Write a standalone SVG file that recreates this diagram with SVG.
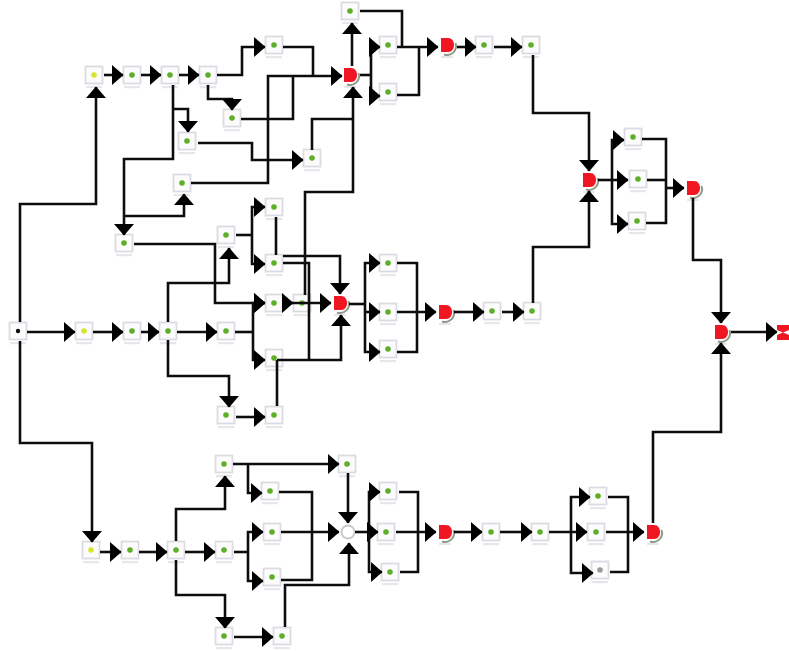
<svg xmlns="http://www.w3.org/2000/svg" xmlns:xlink="http://www.w3.org/1999/xlink" width="789" height="651" viewBox="0 0 789 651">
<style>
.w{fill:none;stroke:#111;stroke-width:2.6;stroke-linejoin:miter}
.a{fill:none;stroke:#111;stroke-width:2.6;marker-end:url(#ah)}
.box{fill:#fcfcfc;stroke:#dcdae2;stroke-width:1.800}
.g{fill:#5fae2a}.y{fill:#d6e62a}.k{fill:#111}.s{fill:#999}
.lab{fill:#e6e6ec}
.red{fill:#f01420}.sh{fill:none;stroke:#8f9a88;stroke-width:2}
</style>
<defs>
<filter id="soft" x="-2%" y="-2%" width="104%" height="104%"><feGaussianBlur stdDeviation="0.6"/></filter>
<marker id="ah" markerUnits="userSpaceOnUse" markerWidth="12" markerHeight="21" viewBox="0 0 12 21" refX="11" refY="10.5" orient="auto"><path d="M0 0.5L11.5 10.5L0 20.5z" fill="#000"/></marker>
<g id="box"><rect class="box" x="-8.5" y="-8.5" width="17" height="17"/><rect class="lab" x="-8" y="11" width="16" height="2.2"/></g>
<g id="rd"><path class="sh" d="M-3 9.5A9 9 0 0 0 8.5 -2"/><path class="red" d="M-6 -7H1C5 -7 7 -3.500 7 0C7 3.500 5 7 1 7H-6z"/><rect class="lab" x="-6" y="11" width="12" height="2"/></g>
</defs>
<g filter="url(#soft)">
<rect width="789" height="651" fill="#fff"/>
<g id="nodes">
<g id="start" transform="translate(18,331)"><use href="#box"/><circle class="k" r="2.200"/></g>
<g id="t1" transform="translate(94,75)"><use href="#box"/><circle class="y" r="2.800"/></g>
<g id="t2" transform="translate(132,75)"><use href="#box"/><circle class="g" r="2.800"/></g>
<g id="t3" transform="translate(170,75)"><use href="#box"/><circle class="g" r="2.800"/></g>
<g id="t4" transform="translate(208,75)"><use href="#box"/><circle class="g" r="2.800"/></g>
<g id="t5" transform="translate(274,45)"><use href="#box"/><circle class="g" r="2.800"/></g>
<g id="t6" transform="translate(232,118)"><use href="#box"/><circle class="g" r="2.800"/></g>
<g id="t7" transform="translate(187,141)"><use href="#box"/><circle class="g" r="2.800"/></g>
<g id="t8" transform="translate(312,158)"><use href="#box"/><circle class="g" r="2.800"/></g>
<g id="t9" transform="translate(182,183)"><use href="#box"/><circle class="g" r="2.800"/></g>
<g id="t10" transform="translate(124,243)"><use href="#box"/><circle class="g" r="2.800"/></g>
<g id="t11" transform="translate(350,11)"><use href="#box"/><circle class="g" r="2.800"/></g>
<g id="t12" transform="translate(388,45)"><use href="#box"/><circle class="g" r="2.800"/></g>
<g id="t13" transform="translate(388,92)"><use href="#box"/><circle class="g" r="2.800"/></g>
<g id="tr1" transform="translate(350,75)"><use href="#rd"/></g>
<g id="tr2" transform="translate(447,45)"><use href="#rd"/></g>
<g id="t14" transform="translate(484,45)"><use href="#box"/><circle class="g" r="2.800"/></g>
<g id="t15" transform="translate(531,45)"><use href="#box"/><circle class="g" r="2.800"/></g>
<g id="m1" transform="translate(84,331)"><use href="#box"/><circle class="y" r="2.800"/></g>
<g id="m2" transform="translate(132,331)"><use href="#box"/><circle class="g" r="2.800"/></g>
<g id="m3" transform="translate(168,331)"><use href="#box"/><circle class="g" r="2.800"/></g>
<g id="m4" transform="translate(226,331)"><use href="#box"/><circle class="g" r="2.800"/></g>
<g id="m5" transform="translate(226,235)"><use href="#box"/><circle class="g" r="2.800"/></g>
<g id="m6" transform="translate(274,207)"><use href="#box"/><circle class="g" r="2.800"/></g>
<g id="m7" transform="translate(274,263)"><use href="#box"/><circle class="g" r="2.800"/></g>
<g id="m8" transform="translate(274,303)"><use href="#box"/><circle class="g" r="2.800"/></g>
<g id="m9" transform="translate(302,303)"><use href="#box"/><circle class="g" r="2.800"/></g>
<g id="m10" transform="translate(274,358)"><use href="#box"/><circle class="g" r="2.800"/></g>
<g id="m11" transform="translate(226,415)"><use href="#box"/><circle class="g" r="2.800"/></g>
<g id="m12" transform="translate(274,415)"><use href="#box"/><circle class="g" r="2.800"/></g>
<g id="mr1" transform="translate(340,303)"><use href="#rd"/></g>
<g id="m13" transform="translate(388,263)"><use href="#box"/><circle class="g" r="2.800"/></g>
<g id="m14" transform="translate(388,312)"><use href="#box"/><circle class="g" r="2.800"/></g>
<g id="m15" transform="translate(388,349)"><use href="#box"/><circle class="g" r="2.800"/></g>
<g id="mr2" transform="translate(445,312)"><use href="#rd"/></g>
<g id="m16" transform="translate(492,311)"><use href="#box"/><circle class="g" r="2.800"/></g>
<g id="m17" transform="translate(532,311)"><use href="#box"/><circle class="g" r="2.800"/></g>
<g id="r1" transform="translate(589,180)"><use href="#rd"/></g>
<g id="r2" transform="translate(633,137)"><use href="#box"/><circle class="g" r="2.800"/></g>
<g id="r3" transform="translate(638,179)"><use href="#box"/><circle class="g" r="2.800"/></g>
<g id="r4" transform="translate(637,221)"><use href="#box"/><circle class="g" r="2.800"/></g>
<g id="r5" transform="translate(693,188)"><use href="#rd"/></g>
<g id="r6" transform="translate(721,332)"><use href="#rd"/></g>
<g id="end"><path class="red" d="M777 325H789V330L783 332.500L789 335V340H777V335L783 332.500L777 330z"/></g>
<g id="b1" transform="translate(91,550)"><use href="#box"/><circle class="y" r="2.800"/></g>
<g id="b2" transform="translate(130,550)"><use href="#box"/><circle class="g" r="2.800"/></g>
<g id="b3" transform="translate(176,550)"><use href="#box"/><circle class="g" r="2.800"/></g>
<g id="b4" transform="translate(224,550)"><use href="#box"/><circle class="g" r="2.800"/></g>
<g id="b5" transform="translate(224,464)"><use href="#box"/><circle class="g" r="2.800"/></g>
<g id="b6" transform="translate(347,464)"><use href="#box"/><circle class="g" r="2.800"/></g>
<g id="b7" transform="translate(270,491)"><use href="#box"/><circle class="g" r="2.800"/></g>
<g id="b8" transform="translate(272,532)"><use href="#box"/><circle class="g" r="2.800"/></g>
<g id="b9" transform="translate(272,577)"><use href="#box"/><circle class="g" r="2.800"/></g>
<g id="b10" transform="translate(224,636)"><use href="#box"/><circle class="g" r="2.800"/></g>
<g id="b11" transform="translate(282,636)"><use href="#box"/><circle class="g" r="2.800"/></g>
<g id="bc" transform="translate(348,532)"><circle r="6.500" fill="#fff" stroke="#c8c8c8" stroke-width="1.800"/></g>
<g id="b12" transform="translate(388,491)"><use href="#box"/><circle class="g" r="2.800"/></g>
<g id="b13" transform="translate(386,532)"><use href="#box"/><circle class="g" r="2.800"/></g>
<g id="b14" transform="translate(390,572)"><use href="#box"/><circle class="g" r="2.800"/></g>
<g id="br1" transform="translate(445,532)"><use href="#rd"/></g>
<g id="b15" transform="translate(491,532)"><use href="#box"/><circle class="g" r="2.800"/></g>
<g id="b16" transform="translate(540,532)"><use href="#box"/><circle class="g" r="2.800"/></g>
<g id="b17" transform="translate(598,496)"><use href="#box"/><circle class="g" r="2.800"/></g>
<g id="b18" transform="translate(596,532)"><use href="#box"/><circle class="g" r="2.800"/></g>
<g id="b19" transform="translate(600,570)"><use href="#box"/><circle class="s" r="2.800"/></g>
<g id="br2" transform="translate(653,532)"><use href="#rd"/></g>
</g>
<g id="connectors">
<path class="a" d="M104 75H123"/>
<path class="a" d="M141 75H161"/>
<path class="a" d="M179 75H199"/>
<path class="a" d="M217 75H242V47H265"/>
<path class="a" d="M208 85V99H232V110"/>
<path class="a" d="M173 85V159H124V235"/>
<path class="a" d="M173 109H188V132"/>
<path class="a" d="M198 143H252V160H303"/>
<path class="a" d="M124 216H184V194"/>
<path class="a" d="M191 183H268V76H342"/>
<path class="w" d="M241 119H293V76"/>
<path class="w" d="M283 47H313V76"/>
<path class="w" d="M312 150V119H353"/>
<path class="a" d="M305 295V192H353V87"/>
<path class="a" d="M352 66V23"/>
<path class="w" d="M360 75H371"/>
<path class="a" d="M371 75V47H380"/>
<path class="a" d="M371 75V96H380"/>
<path class="w" d="M360 11H402V47"/>
<path class="a" d="M397 47H438"/>
<path class="w" d="M397 95H419V47"/>
<path class="a" d="M457 47H476"/>
<path class="a" d="M494 47H522"/>
<path class="a" d="M533 55V113H589V171"/>
<path class="a" d="M533 303V247H589V191"/>
<path class="a" d="M598 180H628"/>
<path class="a" d="M612 180V140H624"/>
<path class="a" d="M612 180V224H628"/>
<path class="w" d="M642 139H666V223H646"/>
<path class="w" d="M647 180H666"/>
<path class="a" d="M666 188H684"/>
<path class="a" d="M693 198V260H721V323"/>
<path class="a" d="M653 523V432H721V343"/>
<path class="a" d="M731 332H777"/>
<path class="w" d="M276 217V255"/>
<path class="w" d="M236 235H252"/>
<path class="a" d="M252 235V207H265"/>
<path class="a" d="M252 235V264H265"/>
<path class="a" d="M283 256H340V294"/>
<path class="w" d="M283 263H309V360"/>
<path class="a" d="M277 360H341V315"/>
<path class="w" d="M277 360V406"/>
<path class="a" d="M134 244H215V303H265"/>
<path class="a" d="M283 303H293"/>
<path class="a" d="M293 303H331"/>
<path class="w" d="M235 332H253"/>
<path class="a" d="M253 332V303H265"/>
<path class="a" d="M253 332V360H265"/>
<path class="a" d="M168 322V283H229V248"/>
<path class="a" d="M168 340V376H229V407"/>
<path class="a" d="M236 417H265"/>
<path class="a" d="M27 332H75"/>
<path class="a" d="M93 332H123"/>
<path class="a" d="M141 332H159"/>
<path class="a" d="M177 332H217"/>
<path class="a" d="M20 322V204H96V87"/>
<path class="a" d="M20 341V443H92V542"/>
<path class="w" d="M349 304H365"/>
<path class="a" d="M365 304V263H380"/>
<path class="a" d="M365 304V352H380"/>
<path class="a" d="M365 312H380"/>
<path class="w" d="M397 263H417V352H397"/>
<path class="a" d="M397 312H436"/>
<path class="a" d="M454 312H484"/>
<path class="a" d="M502 312H524"/>
<path class="a" d="M100 552H121"/>
<path class="a" d="M139 552H167"/>
<path class="a" d="M185 552H215"/>
<path class="w" d="M234 552H248"/>
<path class="a" d="M248 552V532H263"/>
<path class="a" d="M248 552V581H263"/>
<path class="a" d="M176 541V509H225V476"/>
<path class="a" d="M176 560V595H225V628"/>
<path class="a" d="M234 637H273"/>
<path class="a" d="M233 464H339"/>
<path class="a" d="M248 464V493H262"/>
<path class="a" d="M348 473V523"/>
<path class="w" d="M279 492H312V580H281"/>
<path class="a" d="M281 532H339"/>
<path class="a" d="M285 627V585H349V543"/>
<path class="w" d="M355 532H369"/>
<path class="a" d="M369 532V492H380"/>
<path class="a" d="M369 532H378"/>
<path class="a" d="M369 532V572H382"/>
<path class="w" d="M399 492H418V572H400"/>
<path class="a" d="M396 532H436"/>
<path class="a" d="M454 532H482"/>
<path class="a" d="M500 532H532"/>
<path class="a" d="M549 532H587"/>
<path class="a" d="M571 532V497H590"/>
<path class="a" d="M571 532V573H593"/>
<path class="w" d="M608 497H628V572H610"/>
<path class="a" d="M606 532H644"/>
</g>
</g>
</svg>
